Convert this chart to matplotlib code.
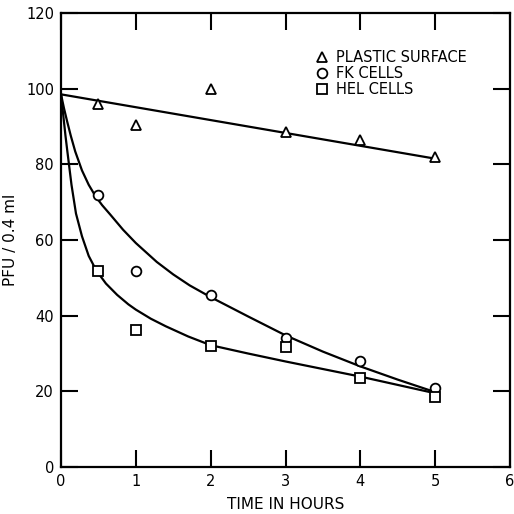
import matplotlib
matplotlib.use("Agg")
import matplotlib.pyplot as plt

# measured points (hours, PFU/0.4 ml)
plastic_x = [0.5, 1, 2, 3, 4, 5]
plastic_y = [96, 90.5, 100, 88.5, 86.5, 82]
fk_x = [0.5, 1, 2, 3, 4, 5]
fk_y = [71.8, 51.8, 45.5, 34, 28, 21]
hel_x = [0.5, 1, 2, 3, 4, 5]
hel_y = [51.8, 36.2, 31.9, 31.6, 23.6, 18.6]

# hand-drawn fit curves
plastic_fit_x = [0, 5]
plastic_fit_y = [98.5, 81.5]
fk_fit_x = [0, 0.04, 0.08, 0.13, 0.19, 0.28, 0.37, 0.46, 0.55, 0.655, 0.83, 1.0,
            1.28, 1.5, 1.72, 2.0, 2.5, 3.0, 3.5, 4.0, 4.5, 5.0]
fk_fit_y = [98.5, 94.8, 91.5, 87.6, 83.4, 78.4, 74.6, 71.6, 69.2, 66.8, 62.7, 59.2,
            54.2, 50.9, 48.0, 44.9, 39.8, 34.8, 30.5, 26.6, 23.1, 19.8]
hel_fit_x = [0, 0.03, 0.06, 0.085, 0.14, 0.2, 0.28, 0.37, 0.47, 0.6, 0.75, 0.9,
             1.0, 1.2, 1.4, 1.7, 2.0, 2.5, 3.0, 3.5, 4.0, 4.5, 5.0]
hel_fit_y = [98.5, 93.0, 87.5, 83.4, 74.6, 67.0, 61.0, 55.8, 52.0, 48.5, 45.5, 43.0,
             41.6, 39.2, 37.2, 34.5, 32.2, 30.0, 27.9, 25.9, 23.9, 21.7, 19.5]

fig = plt.figure(figsize=(5.14, 5.14), dpi=100)
ax = fig.add_axes([0.1187, 0.0914, 0.8735, 0.8833])

lw = 1.6
ax.plot(plastic_fit_x, plastic_fit_y, color="black", lw=lw)
ax.plot(fk_fit_x, fk_fit_y, color="black", lw=lw, solid_joinstyle="round")
ax.plot(hel_fit_x, hel_fit_y, color="black", lw=lw, solid_joinstyle="round")

mk = dict(ls="none", mfc="white", mec="black", mew=1.3, ms=7, zorder=3)
ax.plot(plastic_x, plastic_y, marker="^", label="PLASTIC SURFACE", **mk)
ax.plot(fk_x, fk_y, marker="o", label="FK CELLS", **mk)
ax.plot(hel_x, hel_y, marker="s", label="HEL CELLS", **mk)

ax.set_xlim(0, 6)
ax.set_ylim(0, 120)
ax.set_xticks(range(0, 7))
ax.set_yticks(range(0, 121, 20))
ax.tick_params(direction="in", length=12, width=1.5, top=True, right=True,
               labelsize=10.5, pad=5)
for s in ax.spines.values():
    s.set_linewidth(1.6)

ax.set_xlabel("TIME IN HOURS", fontsize=11, labelpad=6)
ax.set_ylabel("PFU / 0.4 ml", fontsize=11, labelpad=6)

ax.legend(loc="upper left", bbox_to_anchor=(0.555, 0.932), frameon=False,
          fontsize=10.5, handlelength=0.8, handletextpad=0.6, labelspacing=0.08,
          borderaxespad=0)

fig.savefig("out.png", dpi=100)
